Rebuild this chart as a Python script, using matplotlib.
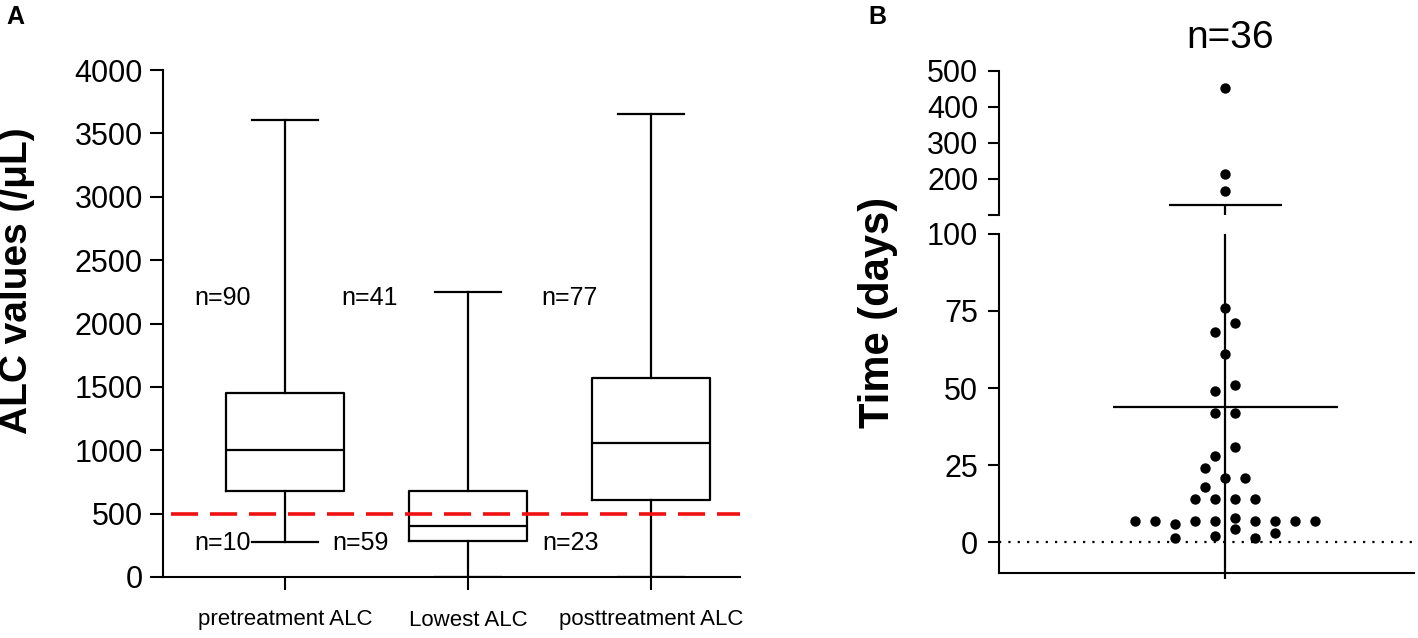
import numpy as np
import matplotlib
matplotlib.use("Agg")
import matplotlib.pyplot as plt

plt.rcParams['font.family'] = ['Liberation Sans', 'DejaVu Sans']

# ---- panel A data (box summaries) ----
groups = ["pretreatment ALC", "Lowest ALC", "posttreatment ALC"]
medians = [1000, 402, 1058]
q1s = [680, 283, 606]
q3s = [1450, 680, 1567]
whis_lo = [276, 0, 0]
whis_hi = [3605, 2249, 3655]
n_above = [90, 41, 77]
n_below = [10, 59, 23]
cutoff = 500

# ---- panel B data (days), beeswarm offsets ----
days_low = [76, 71, 68, 61, 51, 49, 42, 42, 31, 28, 24, 21, 21, 18, 14, 14, 14, 14,
            7, 7, 6, 7, 7, 8, 7, 7, 7, 7, 1.3, 2, 4.2, 1.3, 2.9]
swarm_x = [0, 1, -1, 0, 1, -1, -1, 1, 1, -1, -2, 0, 2, -2, -3, -1, 1, 3,
           -9, -7, -5, -3, -1, 1, 3, 5, 7, 9, -5, -1, 1, 3, 5]
days_high = [452, 214, 167]

W, H = 1418, 638
fig = plt.figure(figsize=(W / 100, H / 100), dpi=100)

def box(l, t, r, b):
    return [l / W, 1 - b / H, (r - l) / W, (b - t) / H]

# ================= Panel A =================
axA = fig.add_axes(box(163, 70, 740, 577))
stats = []
for i in range(3):
    stats.append(dict(med=medians[i], q1=q1s[i], q3=q3s[i],
                      whislo=whis_lo[i], whishi=whis_hi[i], label=groups[i]))
lp = dict(color='black', linewidth=1.6)
axA.bxp(stats, positions=[1, 2, 3], widths=0.645, capwidths=0.36, showfliers=False,
        boxprops=lp, whiskerprops=lp, capprops=lp, medianprops=lp)
axA.axhline(cutoff, xmin=0.014, xmax=1, color='#f01010', linewidth=2.6,
            linestyle=(0, (7.5, 3.3)), zorder=5)
axA.set_xlim(0.333, 3.486)
axA.set_ylim(0, 4000)
axA.set_yticks(np.arange(0, 4001, 500))
axA.set_xticks([1, 2, 3])
axA.set_xticklabels(groups, fontsize=16)
axA.tick_params(axis='y', labelsize=22, length=9.4, width=1.5, pad=5)
axA.tick_params(axis='x', length=9.4, width=1.5, pad=14)
for s in ['top', 'right']:
    axA.spines[s].set_visible(False)
for s in ['left', 'bottom']:
    axA.spines[s].set_linewidth(1.5)

for xpos, n in zip([0.656, 1.464, 2.552], n_above):
    axA.text(xpos, 2200, f"n={n}", fontsize=18, ha='center', va='center')
for xpos, n in zip([0.656, 1.41, 2.56], n_below):
    axA.text(xpos, 270, f"n={n}", fontsize=18, ha='center', va='center')

fig.text(17 / W, 1 - 281 / H, "ALC values (/μL)", rotation=90, fontsize=28,
         fontweight='bold', ha='center', va='center')
fig.text(6 / W, 1 - 5 / H, "A", fontsize=18, fontweight='bold', ha='left', va='top')

# ================= Panel B =================
allv = np.array(days_low + days_high)
mean = allv.mean()
sd = allv.std(ddof=1)

axL = fig.add_axes(box(999, 233.7, 1414, 573.3))
axU = fig.add_axes(box(999, 70.7, 1414, 215))
xl = (-22.6, 18.9)

axL.scatter(swarm_x, days_low, s=56, color='black', zorder=4, linewidths=0)
axL.axhline(0, color='black', linewidth=1.6, linestyle=(0, (1, 3.2)))
axL.hlines(mean, -11.25, 11.25, color='black', linewidth=1.6)
axL.vlines(0, -12, 100, color='black', linewidth=1.6, clip_on=False)
axL.set_xlim(*xl)
axL.set_ylim(-10, 100)
axL.set_yticks([0, 25, 50, 75, 100])
axL.set_xticks([])
axL.tick_params(axis='y', labelsize=22, length=8, width=1.5, pad=7)
for s in ['top', 'right']:
    axL.spines[s].set_visible(False)
for s in ['left', 'bottom']:
    axL.spines[s].set_linewidth(1.5)

axU.scatter([0] * len(days_high), days_high, s=56, color='black', zorder=4,
            linewidths=0)
axU.hlines(mean + sd, -5.65, 5.65, color='black', linewidth=1.6)
axU.vlines(0, 100, mean + sd, color='black', linewidth=1.6)
axU.set_xlim(*xl)
axU.set_ylim(100, 500)
axU.set_yticks([100, 200, 300, 400, 500])
axU.set_yticklabels(['', '200', '300', '400', '500'])
axU.set_xticks([])
axU.tick_params(axis='y', labelsize=22, length=8, width=1.5, pad=7)
for s in ['top', 'right', 'bottom']:
    axU.spines[s].set_visible(False)
axU.spines['left'].set_linewidth(1.5)

fig.text(1230 / W, 1 - 38 / H, f"n={len(allv)}", fontsize=28, ha='center',
         va='center')
fig.text(878 / W, 1 - 312 / H, "Time (days)", rotation=90, fontsize=30,
         fontweight='bold', ha='center', va='center')
fig.text(868 / W, 1 - 5 / H, "B", fontsize=18, fontweight='bold', ha='left',
         va='top')

fig.savefig("out.png", dpi=100)
